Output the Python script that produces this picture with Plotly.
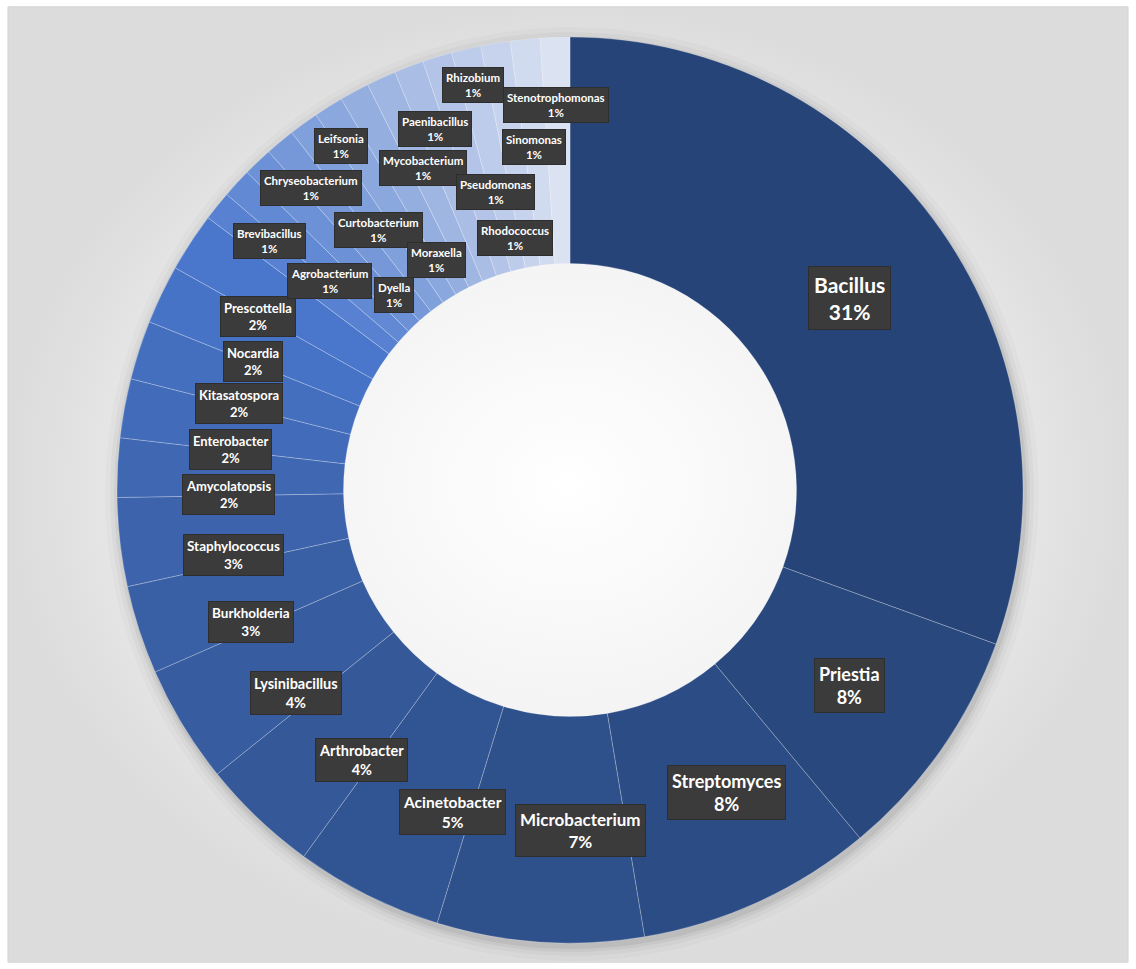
import math
import plotly.graph_objects as go

# ---------------- data ----------------
genera = [
    "Bacillus", "Priestia", "Streptomyces", "Microbacterium", "Acinetobacter",
    "Arthrobacter", "Lysinibacillus", "Burkholderia", "Staphylococcus",
    "Amycolatopsis", "Enterobacter", "Kitasatospora", "Nocardia", "Prescottella",
    "Agrobacterium", "Brevibacillus", "Chryseobacterium", "Curtobacterium",
    "Dyella", "Leifsonia", "Moraxella", "Mycobacterium", "Paenibacillus",
    "Pseudomonas", "Rhizobium", "Rhodococcus", "Sinomonas", "Stenotrophomonas",
]
counts = [29, 8, 8, 7, 5, 4, 4, 3, 3, 2, 2, 2, 2, 2,
          1, 1, 1, 1, 1, 1, 1, 1, 1, 1, 1, 1, 1, 1]

# ---------------- styling ----------------
W, H = 1136, 969
CX, CY = 570, 490          # donut centre (px)
R_OUT = 453
HOLE = 0.5
R_MID = 340


def hex2rgb(h):
    h = h.lstrip("#")
    return tuple(int(h[i:i + 2], 16) for i in (0, 2, 4))


def lerp(c1, c2, t):
    a, b = hex2rgb(c1), hex2rgb(c2)
    return "rgb(%d,%d,%d)" % tuple(round(a[i] + (b[i] - a[i]) * t) for i in range(3))


n = len(genera)
colors = []
for i in range(n):
    if i <= 13:
        colors.append(lerp("#264478", "#4a77cc", i / 13))
    else:
        colors.append(lerp("#5882d1", "#dbe2f2", (i - 14) / (n - 15)))

# label font size by share
size_by_count = {29: 21, 8: 18, 7: 17, 5: 15.5, 4: 14.5, 3: 13.5, 2: 13, 1: 11.5}

# label placement tweaks: (angle shift deg, radius px)
label_adjust = {
    "Bacillus": (0.5, 339), "Priestia": (0.0, 341), "Streptomyces": (-2.7, 340),
    "Microbacterium": (-5.5, 341), "Acinetobacter": (-6.5, 343),
    "Arthrobacter": (-5.9, 341), "Lysinibacillus": (-5.2, 341),
    "Burkholderia": (-4.5, 345), "Staphylococcus": (-4.3, 343),
    "Amycolatopsis": (-3.6, 342), "Enterobacter": (-3.7, 342),
    "Kitasatospora": (-3.3, 342), "Nocardia": (-3.5, 342), "Prescottella": (-4.0, 357),
    "Agrobacterium": (2.2, 319), "Brevibacillus": (-3, 390),
    "Chryseobacterium": (3, 398), "Curtobacterium": (3.4, 323),
    "Dyella": (-6, 263), "Leifsonia": (-1.5, 413), "Moraxella": (-1.6, 266),
    "Mycobacterium": (0.1, 354), "Paenibacillus": (0.3, 386),
    "Pseudomonas": (3.1, 307), "Rhizobium": (-0.2, 416), "Rhodococcus": (-2.8, 258),
    "Sinomonas": (-0.3, 345), "Stenotrophomonas": (-0.2, 385),
}

fig = go.Figure()

# background panel with radial gradient
fig.add_trace(go.Scatter(
    x=[0.007, 0.993, 0.993, 0.007, 0.007],
    y=[0.007, 0.007, 0.993, 0.993, 0.007],
    mode="lines", fill="toself",
    line=dict(color="#d6d6d6", width=1),
    fillgradient=dict(type="radial",
                      colorscale=[[0, "#ffffff"], [0.6, "#f1f1f1"], [1, "#dcdcdc"]]),
    hoverinfo="skip", showlegend=False,
))

# soft shadow ring just outside the donut
steps = 180
for extra, alpha in [(14, 0.02), (9, 0.03), (5, 0.045), (2, 0.06)]:
    rr = R_OUT + extra
    ri = R_OUT - 6
    ang_o = [i * 2 * math.pi / steps for i in range(steps + 1)]
    ang_i = list(reversed(ang_o))
    xs = [(CX + 2 + rr * math.cos(t)) / W for t in ang_o] + \
         [(CX + ri * math.cos(t)) / W for t in ang_i]
    ys = [1 - (CY + 4 + rr * math.sin(t)) / H for t in ang_o] + \
         [1 - (CY + ri * math.sin(t)) / H for t in ang_i]
    fig.add_trace(go.Scatter(
        x=xs, y=ys, mode="lines", fill="toself", line=dict(width=0),
        fillcolor=f"rgba(0,0,0,{alpha})", hoverinfo="skip", showlegend=False,
    ))

fig.add_trace(go.Pie(
    labels=genera, values=counts, sort=False, direction="clockwise",
    rotation=0, hole=HOLE,
    marker=dict(colors=colors, line=dict(color="rgba(255,255,255,0.3)", width=0.8)),
    textinfo="none", showlegend=False,
    domain=dict(x=[(CX - R_OUT) / W, (CX + R_OUT) / W],
                y=[1 - (CY + R_OUT) / H, 1 - (CY - R_OUT) / H]),
))

total = sum(counts)
cum = 0
annotations = []
for g, c in zip(genera, counts):
    mid = (cum + c / 2) / total * 360
    cum += c
    da, r = label_adjust.get(g, (0, R_MID))
    ang = math.radians(mid + da)
    px = CX + r * math.sin(ang)
    py = CY - r * math.cos(ang)
    pct = round(c / total * 100)
    fs = size_by_count[c]
    annotations.append(dict(
        x=px / W, y=1 - py / H, xref="paper", yref="paper",
        text=f"<b>{g}</b><br><b>{pct}%</b>",
        showarrow=False, xanchor="center", yanchor="middle",
        font=dict(family="Lato, Calibri, sans-serif", size=fs, color="#ffffff"),
        bgcolor="#3b3b3b", borderpad=max(3, round(fs * 0.22)),
        bordercolor="#2e2e2e", borderwidth=1,
    ))

fig.update_layout(
    width=W, height=H,
    margin=dict(l=0, r=0, t=0, b=0),
    paper_bgcolor="#ffffff", plot_bgcolor="rgba(0,0,0,0)",
    xaxis=dict(visible=False, range=[0, 1], domain=[0, 1], fixedrange=True),
    yaxis=dict(visible=False, range=[0, 1], domain=[0, 1], fixedrange=True),
    annotations=annotations,
    showlegend=False,
)

fig.write_html("out.html")
